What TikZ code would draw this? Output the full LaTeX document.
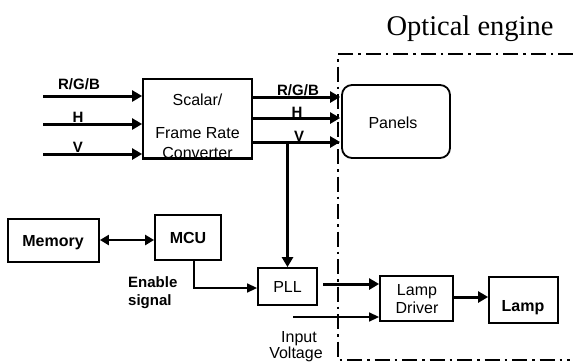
\documentclass[tikz,border=0pt]{standalone}
\usepackage{fontspec}
\setmainfont{Liberation Sans}
\newfontfamily\oeserif{Liberation Serif}
\usetikzlibrary{arrows.meta}
\begin{document}
\begin{tikzpicture}[x=1pt,y=-1pt,
  blk/.style={draw,line width=1.8pt,inner sep=0pt},
  rtxt/.style={font=\fontsize{16}{19}\selectfont,inner sep=0pt},
  btxt/.style={font=\fontsize{15}{18}\selectfont\bfseries,inner sep=0pt},
  bbig/.style={font=\fontsize{16}{19}\selectfont\bfseries,inner sep=0pt},
  thk/.style={line width=3pt,-{Triangle[length=10pt,width=11pt]}},
  thn/.style={line width=1.4pt,-{Triangle[length=10pt,width=9pt]}},
  dbl/.style={line width=2.4pt,{Triangle[length=9pt,width=10pt]}-{Triangle[length=9pt,width=10pt]}},
  frame/.style={line width=1.6pt,dash pattern=on 15pt off 5pt on 2.5pt off 5pt}
]
\useasboundingbox (0,0) rectangle (573,362);

% blocks
\node[blk,minimum width=109pt,minimum height=79pt] (scalar) at (197.5,118.5) {};
\node[blk,rounded corners=10pt,minimum width=108pt,minimum height=73pt] (panels) at (396,121.5) {};
\node[blk,minimum width=91pt,minimum height=43pt] (memory) at (53.5,240.5) {};
\node[blk,minimum width=66pt,minimum height=45pt] (mcu) at (188,237.5) {};
\node[blk,minimum width=59pt,minimum height=37pt] (pll) at (287.5,286.5) {};
\node[blk,minimum width=73pt,minimum height=45pt] (driver) at (416.5,298.5) {};
\node[blk,minimum width=69pt,minimum height=46pt] (lamp) at (523.5,300) {};

% block texts
\node[rtxt,anchor=base] (t1) at (197.5,105) {Scalar/};
\node[rtxt,anchor=base] (t2) at (197.5,138) {Frame Rate};
\node[rtxt,anchor=base] (t3) at (197.5,158.5) {Converter};
\draw[line width=1.8pt] (scalar.south west) -- (scalar.south east);
\node[rtxt,anchor=base] (tp) at (393,128.5) {Panels};
\node[bbig,anchor=base] (tm) at (53,246.5) {Memory};
\node[bbig,anchor=base] (tc) at (188,243) {MCU};
\node[rtxt,anchor=base] (tpll) at (287.5,292.5) {PLL};
\node[rtxt,anchor=base] (td1) at (417,295) {Lamp};
\node[rtxt,anchor=base] (td2) at (417,313) {Driver};
\node[bbig,anchor=base] (tl) at (523,311) {Lamp};

% title
\node[font=\oeserif\fontsize{28.5}{33}\selectfont,anchor=base,inner sep=0pt] (oe) at (470,35) {Optical engine};

% dash-dot frame
\draw[frame] (573,54) -- (338,54) -- (338,360) -- (570,360);

% input lines
\coordinate (i1) at (43,96);
\coordinate (i2) at (43,124);
\coordinate (i3) at (43,154);
\draw[thk] (i1) -- (i1 -| scalar.west);
\draw[thk] (i2) -- (i2 -| scalar.west);
\draw[thk] (i3) -- (i3 -| scalar.west);
\node[btxt,anchor=base] (l1) at (79,89) {R/G/B};
\node[btxt,anchor=base] (l2) at (78,122) {H};
\node[btxt,anchor=base] (l3) at (78,152.5) {V};

% output lines
\coordinate (o1) at (252,97);
\coordinate (o2) at (252,118);
\coordinate (o3) at (252,142);
\draw[thk,shorten >=1pt] (o1) -- (o1 -| panels.west);
\draw[thk,shorten >=1pt] (o2) -- (o2 -| panels.west);
\draw[thk,shorten >=1pt] (o3) -- (o3 -| panels.west);
\node[btxt,anchor=base] (l4) at (298,95.5) {R/G/B};
\node[btxt,anchor=base] (l5) at (297,117) {H};
\node[btxt,anchor=base] (l6) at (299,141) {V};

% V to PLL
\draw[thk] (pll.north |- o3) -- (pll.north);

% memory <-> MCU
\coordinate (mm) at (99,240);
\draw[dbl] (memory.east |- mm) -- (mcu.west |- mm);

% enable signal
\coordinate (en) at (194,288);
\draw[thn] (mcu.south -| en) |- (pll.west |- en);
\node[btxt,anchor=base west] (e1) at (128,287.5) {Enable};
\node[btxt,anchor=base west] (e2) at (128,305.5) {signal};

% PLL -> lamp driver
\coordinate (p1) at (323,284);
\draw[thk] (p1) -- (p1 -| driver.west);

% input voltage
\coordinate (iv) at (293,317);
\draw[thn] (iv) -- (iv -| driver.west);
\node[rtxt,anchor=base] (v1) at (299,342) {Input};
\node[rtxt,anchor=base] (v2) at (296,358) {Voltage};

% driver -> lamp
\coordinate (dl) at (453,297);
\draw[thk] (driver.east |- dl) -- (lamp.west |- dl);
\end{tikzpicture}
\end{document}
